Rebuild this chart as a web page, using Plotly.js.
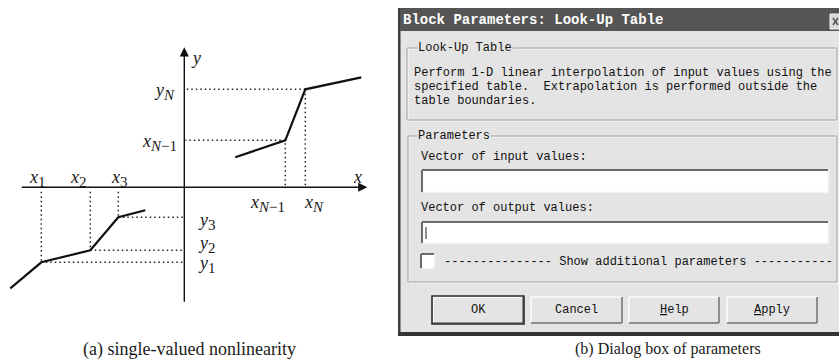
<!DOCTYPE html>
<html><head><meta charset="utf-8">
<script src="https://cdn.plot.ly/plotly-3.0.1.min.js"></script>
<style>html,body{margin:0;padding:0;background:#fff}</style>
</head><body><div id="chart" style="width:839px;height:364px"></div>
<script>
// ---- Data (diagram units, origin at the axes crossing) ----
const leftX  = [-17.4, -14.3, -9.4, -6.6, -3.9];
const leftY  = [-10.1, -7.5, -6.3, -3.0, -2.3];
const rightX = [5.1, 10.1, 12.1, 17.7];
const rightY = [3.0, 4.7, 9.8, 11.0];
const leftKinkIdx  = [1, 2, 3];
const rightKinkIdx = [1, 2];
const SB = s => '<sub><span style="font-size:15px">' + s + '</span></sub>';
const xKinkLabels = ['<i>x</i>'+SB('1'), '<i>x</i>'+SB('2'), '<i>x</i>'+SB('3')];
const yKinkLabels = ['<i>y</i>'+SB('1'), '<i>y</i>'+SB('2'), '<i>y</i>'+SB('3')];
const rightXLabels = ['<i>x</i>'+SB('<i>N</i>−1'), '<i>x</i>'+SB('<i>N</i>')];
const rightYLabels = ['<i>x</i>'+SB('<i>N</i>−1'), '<i>y</i>'+SB('<i>N</i>')];
const captions = ['(a) single-valued nonlinearity', '(b) Dialog box of parameters'];
const dialogTitle = 'Block Parameters: Look-Up Table';
const groupTitles = ['Look-Up Table', 'Parameters'];
const descLines = ['Perform 1-D linear interpolation of input values using the',
                   'specified table.  Extrapolation is performed outside the',
                   'table boundaries.'];
const fieldLabels = ['Vector of input values:', 'Vector of output values:'];
const checkLabel = '--------------- Show additional parameters -----------';
const buttons = ['OK', 'Cancel', '<u>H</u>elp', '<u>A</u>pply'];

// ---- Traces ----
const traces = [];
const dotLine = {color:'#222', width:1.5, dash:'1.5px,3px'};
leftKinkIdx.forEach(i => {
  traces.push({x:[leftX[i], leftX[i]], y:[-0.45, leftY[i]], mode:'lines', line:dotLine, hoverinfo:'skip'});
  traces.push({x:[leftX[i], -0.15], y:[leftY[i], leftY[i]], mode:'lines', line:dotLine, hoverinfo:'skip'});
});
rightKinkIdx.forEach(i => {
  traces.push({x:[rightX[i], rightX[i]], y:[0.2, rightY[i]], mode:'lines', line:dotLine, hoverinfo:'skip'});
  traces.push({x:[rightX[i], 0.1], y:[rightY[i], rightY[i]], mode:'lines', line:dotLine, hoverinfo:'skip'});
});
traces.push({x:leftX, y:leftY, mode:'lines', line:{color:'#111', width:2.2}, hoverinfo:'skip'});
traces.push({x:rightX, y:rightY, mode:'lines', line:{color:'#111', width:2.2}, hoverinfo:'skip'});
traces.push({x:[], y:[], xaxis:'x2', yaxis:'y2', mode:'lines'});

// ---- Layout helpers (pixel coordinates on x2/y2) ----
const BG = '#e4e4e4';
const shapes = [];
const ann = [];
function rect(x0,y0,x1,y1,fill,lc,lw){shapes.push({type:'rect',xref:'x2',yref:'y2',x0,y0,x1,y1,fillcolor:fill||'rgba(0,0,0,0)',line:{color:lc||'rgba(0,0,0,0)',width:lw||0}});}
function ln(x0,y0,x1,y1,c,w){shapes.push({type:'line',xref:'x2',yref:'y2',x0,y0,x1,y1,line:{color:c,width:w||1}});}
function txt(t,x,y,o){ann.push(Object.assign({text:t,x,y,xref:'x2',yref:'y2',showarrow:false,xanchor:'left',yanchor:'middle',
  font:{family:'Liberation Mono, monospace',size:12,color:'#111'}},o||{}));}
function serif(t,x,y,xa,sz){ann.push({text:t,x,y,xref:'x2',yref:'y2',showarrow:false,xanchor:xa,yanchor:'middle',
  font:{family:'Liberation Serif, serif',size:sz||18,color:'#1a1a1a'}});}

// diagram axes (arrows)
ann.push({x:18.3,y:0,ax:-16.4,ay:0,xref:'x',yref:'y',axref:'x',ayref:'y',showarrow:true,arrowhead:2,arrowsize:1.3,arrowwidth:1.4,arrowcolor:'#111',text:'',standoff:0,startstandoff:0});
ann.push({x:0,y:14.0,ax:0,ay:-11.6,xref:'x',yref:'y',axref:'x',ayref:'y',showarrow:true,arrowhead:2,arrowsize:1.3,arrowwidth:1.4,arrowcolor:'#111',text:'',standoff:0,startstandoff:0});
serif('<i>x</i>',357,177,'center');
serif('<i>y</i>',196,58,'center');
// kink labels
const xlPos = [[37,178],[78,178],[119,178]];
xKinkLabels.forEach((t,i)=>serif(t,xlPos[i][0],xlPos[i][1],'center'));
const ylPos = [[196,264],[196,244],[196,221]];
yKinkLabels.forEach((t,i)=>serif(t,ylPos[i][0],ylPos[i][1],'left'));
const rxPos = [[267,203],[314,203]];
rightXLabels.forEach((t,i)=>serif(t,rxPos[i][0],rxPos[i][1],'center'));
const ryPos = [[179,142],[177,91]];
rightYLabels.forEach((t,i)=>serif(t,ryPos[i][0],ryPos[i][1],'right'));

// captions
ann.push({text:captions[0],x:189,y:349,xref:'x2',yref:'y2',showarrow:false,xanchor:'center',yanchor:'middle',font:{family:'Liberation Serif, serif',size:18,color:'#1a1a1a'}});
ann.push({text:captions[1],x:668,y:349,xref:'x2',yref:'y2',showarrow:false,xanchor:'center',yanchor:'middle',font:{family:'Liberation Serif, serif',size:16,color:'#1a1a1a'}});

// dialog
rect(398,8,845,336,BG);
rect(398,8,400.5,336,'#3c3c3c');
rect(398,332,845,336,'#333');
rect(400,8,845,31,'#555555');
txt('<b>'+dialogTitle+'</b>',401,20,{font:{family:'Liberation Mono, monospace',size:14,color:'#ffffff'}});
rect(830,14,845,29,'#d9d9d9','#f4f4f4',1);
ln(833,18,838,25,'#555',1.5); ln(838,18,833,25,'#555',1.5);

// group boxes (etched)
function group(x0,y0,x1,y1){rect(x0+1,y0+1,x1+1,y1+1,null,'#fbfbfb',1);rect(x0,y0,x1,y1,null,'#a2a2a2',1);}
group(407,48,837,120);
group(408,136,837,282);
txt(groupTitles[0],417,48,{bgcolor:BG,borderpad:0});
txt(groupTitles[1],417,136,{bgcolor:BG,borderpad:0});
descLines.forEach((l,i)=>txt(l,412,73+i*14));

// fields
txt(fieldLabels[0],419,157);
txt(fieldLabels[1],419,208);
function sunken(x0,y0,x1,y1){rect(x0,y0,x1,y1,'#ffffff');ln(x0,y1,x1,y1,'#fafafa',1.5);ln(x1,y0,x1,y1,'#fafafa',1.5);
  ln(x0,y0,x1,y0,'#6a6a6a',2);ln(x0,y0,x0,y1,'#6a6a6a',2);}
sunken(422,170,828,192);
sunken(422,222,828,243);
ln(426,227,426,239,'#222',1);
sunken(421,254,434,268);
txt(checkLabel,442,262);

// buttons
const bx = [[433,523],[531,622],[629,719],[727,817]];
bx.forEach((b,i)=>{
  rect(b[0],297,b[1],323,BG);
  ln(b[0],297,b[1],297,'#fdfdfd',1.5);ln(b[0],297,b[0],323,'#fdfdfd',1.5);
  ln(b[0],323,b[1],323,'#707070',1.5);ln(b[1],297,b[1],323,'#707070',1.5);
  if(i===0) rect(b[0]-1,296,b[1]+1,324,null,'#2a2a2a',1.6);
  txt(buttons[i],(b[0]+b[1])/2,310,{xanchor:'center'});
});

const layout = {
  width:839, height:364, margin:{l:0,r:0,t:0,b:0},
  paper_bgcolor:'#ffffff', plot_bgcolor:'rgba(0,0,0,0)', showlegend:false,
  xaxis:{range:[-18.43,65.47], visible:false, fixedrange:true},
  yaxis:{range:[-17.67,18.73], visible:false, fixedrange:true},
  xaxis2:{range:[0,839], overlaying:'x', visible:false, fixedrange:true},
  yaxis2:{range:[364,0], overlaying:'y', visible:false, fixedrange:true},
  shapes, annotations:ann
};
Plotly.newPlot('chart', traces, layout, {displayModeBar:false, staticPlot:true});
</script></body></html>
